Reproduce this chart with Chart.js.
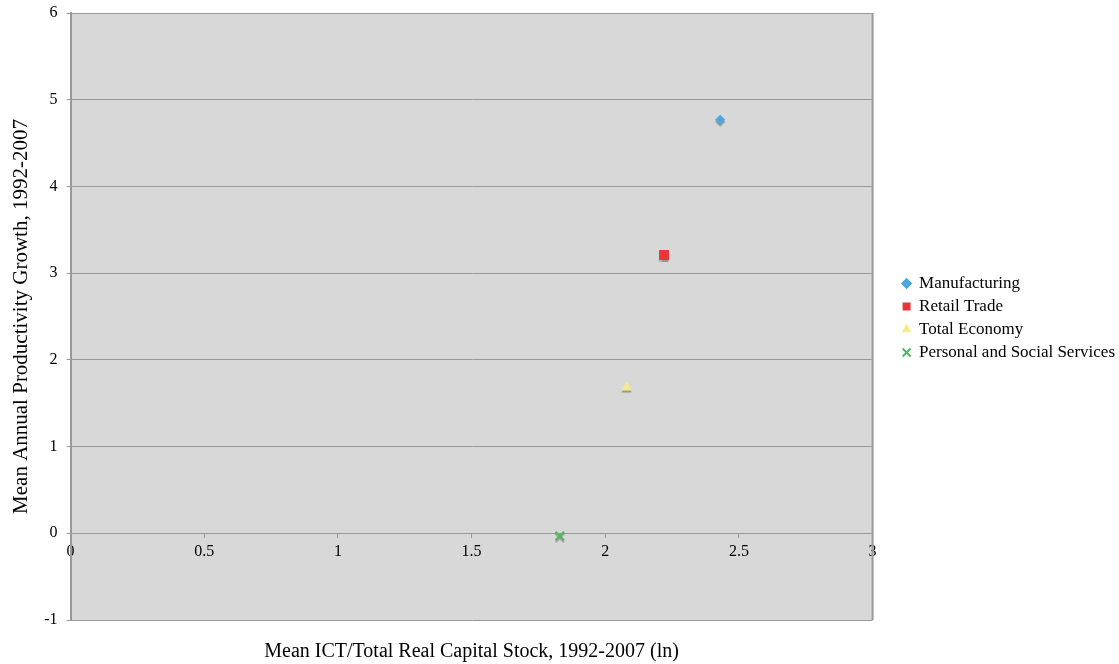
<!DOCTYPE html>
<html>
<head>
<meta charset="utf-8">
<script src="https://cdn.jsdelivr.net/npm/chart.js@4"></script>
<style>
  html, body { margin: 0; padding: 0; background: #fff; }
  #wrap { width: 1119px; height: 664px; }
</style>
</head>
<body>
<div id="wrap"><canvas id="chart" width="1119" height="664"></canvas></div>
<script>
// Series values: [x = ln(ICT/capital), y = productivity growth]
const seriesNames = ['Manufacturing', 'Retail Trade', 'Total Economy', 'Personal and Social Services'];
const ictShare = [2.43, 2.22, 2.08, 1.83];
const prodGrowth = [4.77, 3.21, 1.68, -0.03];
const xTicks = [0, 0.5, 1, 1.5, 2, 2.5, 3];
const yTicks = [-1, 0, 1, 2, 3, 4, 5, 6];

const colors = ['#4ea6e0', '#e8363a', '#f3ec8c', '#4dba5c'];
const styles = ['rectRot', 'rect', 'triangle', 'crossRot'];
const radii = [5, 7, 6, 6];

const FONT = '"Liberation Serif", "Times New Roman", serif';

// gray plot background and frame
const plotFrame = {
    id: 'plotFrame',
    beforeDraw(chart) {
        const {ctx, chartArea: a} = chart;
        ctx.save();
        ctx.fillStyle = '#d8d8d8';
        ctx.fillRect(a.left, a.top, a.right - a.left, a.bottom - a.top);
        ctx.restore();
    },
    afterDraw(chart) {
        const {ctx, chartArea: a} = chart;
        ctx.save();
        ctx.strokeStyle = '#9a9a9a';
        ctx.lineWidth = 2;
        ctx.beginPath();
        ctx.moveTo(a.right, a.top);
        ctx.lineTo(a.right, a.bottom);
        ctx.stroke();
        // x axis title below the plot
        ctx.fillStyle = '#000';
        ctx.font = '20px ' + FONT;
        ctx.textAlign = 'center';
        ctx.textBaseline = 'middle';
        ctx.fillText('Mean ICT/Total Real Capital Stock, 1992-2007 (ln)', (a.left + a.right) / 2, 652);
        ctx.restore();
    },
    // soft shadow under the markers
    beforeDatasetsDraw(chart) {
        const ctx = chart.ctx;
        ctx.save();
        ctx.shadowColor = 'rgba(0,0,0,0.3)';
        ctx.shadowOffsetY = 2;
        ctx.shadowBlur = 1;
    },
    afterDatasetsDraw(chart) {
        chart.ctx.restore();
    }
};

const datasets = seriesNames.map((name, i) => ({
    label: name,
    data: [{x: ictShare[i], y: prodGrowth[i]}],
    pointStyle: styles[i],
    pointRadius: radii[i],
    backgroundColor: colors[i],
    borderColor: colors[i],
    borderWidth: styles[i] === 'crossRot' ? 2 : 0
}));

new Chart(document.getElementById('chart'), {
    type: 'scatter',
    data: {datasets},
    plugins: [plotFrame],
    options: {
        responsive: false,
        animation: false,
        layout: {padding: {left: 9, top: 0, bottom: 44, right: -6}},
        plugins: {
            title: {display: false},
            tooltip: {enabled: false},
            legend: {
                position: 'right',
                maxWidth: 300,
                // blank title just nudges the entries down a little
                title: {display: true, text: ' ', font: {size: 10}, padding: 2},
                labels: {
                    usePointStyle: true,
                    boxWidth: 8,
                    boxHeight: 8,
                    padding: 6,
                    color: '#000',
                    font: {family: FONT, size: 17}
                }
            }
        },
        scales: {
            x: {
                type: 'linear',
                position: {y: 0},
                min: 0,
                max: 3,
                afterBuildTicks(scale) { scale.ticks = xTicks.map(v => ({value: v})); },
                ticks: {color: '#000', font: {family: FONT, size: 16}, padding: 5,
                        callback: v => String(v)},
                grid: {drawOnChartArea: false, tickLength: 4, color: '#999'},
                border: {color: '#999', width: 1}
            },
            y: {
                type: 'linear',
                min: -1,
                max: 6,
                afterBuildTicks(scale) { scale.ticks = yTicks.map(v => ({value: v})); },
                afterFit(scale) { scale.paddingTop = 13; scale.paddingBottom = 10; },
                ticks: {color: '#000', font: {family: FONT, size: 16}, padding: 9},
                grid: {color: '#999', tickLength: 4},
                border: {color: '#999', width: 2},
                title: {display: true, text: 'Mean Annual Productivity Growth, 1992-2007',
                        color: '#000', font: {family: FONT, size: 21}, padding: {top: 0, bottom: 1}}
            },
            // empty spacer between the plot and the legend
            gap: {
                type: 'linear',
                position: 'right',
                display: true,
                ticks: {display: false},
                grid: {display: false},
                border: {display: false},
                afterFit(scale) { scale.width = 24; }
            }
        }
    }
});
</script>
</body>
</html>
